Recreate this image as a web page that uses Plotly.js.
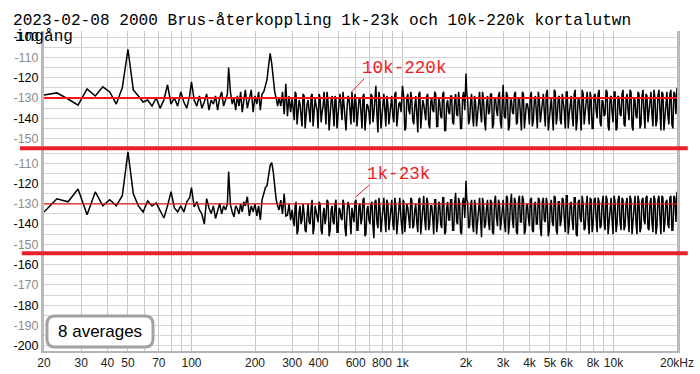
<!DOCTYPE html>
<html><head><meta charset="utf-8">
<script src="https://cdn.plot.ly/plotly-3.0.1.min.js"></script>
<style>html,body{margin:0;padding:0;background:#fff}#chart{width:700px;height:374px}</style>
</head><body><div id="chart"></div>
<script>
const titleLine1 = "2023-02-08 2000 Brus-återkoppling 1k-23k och 10k-220k kortalutwn";
const titleLine2 = "ingång";
const labelTop = "10k-220k";
const labelBottom = "1k-23k";
const averagesText = "8 averages";

const freqLowHz = [20,23,26,29,32,35,38,41,44,47,50,53,56,59,62,65,68,71,74,77,80,83,86,89,92,95,98,100,
  103,106,109,112,115,118,121,124,127,130,133,136,139,142,145,148,150,153,156,159,162,165,168,171,174,177,180,
  184,188,192,196,200,204,208,212,216,220,224,228,232,236,240,244,248,252,256,260,265,270,275,280,285,290,295];
const freqHighHz = [300,307,313,320,327,334,342,349,357,365,
  373,381,390,398,407,416,425,434,444,454,
  464,474,484,495,506,517,528,540,552,564,
  576,589,602,615,629,643,657,671,686,701,
  717,732,748,765,782,799,816,834,853,871,
  890,910,930,950,971,1000,1015,1037,1060,1083,
  1107,1131,1156,1182,1208,1234,1261,1289,1317,1346,
  1376,1406,1437,1469,1501,1534,1568,1602,1637,1673,
  1710,1748,1786,1825,1865,1906,1948,2000,2035,2080,
  2125,2172,2220,2269,2319,2370,2422,2475,2529,2585,
  2642,2700,2759,2820,2882,2945,3000,3076,3144,3213,
  3284,3356,3430,3505,3582,3661,3741,3824,3908,3994,
  4081,4171,4263,4356,4452,4550,4650,4752,4857,4963,
  5072,5184,5298,5414,5533,5655,5779,5906,6036,6169,
  6304,6443,6585,6729,6877,7029,7183,7341,7503,7668,
  7836,8008,8184,8364,8548,8736,8929,9125,9326,9531,
  9741,9955,10174,10398,10626,10860,11099,11343,11593,11848,
  12109,12375,12647,12925,13210,13500,13797,14101,14411,14728,
  15052,15383,15722,16068,16421,16782,17152,17529,17915,18309,
  18712,19123,19544,20000];
const freqMidHz = [303.5,310,316.5,323.5,330.5,338,345.5,353,361,369,
  377,385.5,394,402.5,411.5,420.5,429.5,439,449,459,
  469,479,489.5,500.5,511.5,522.5,534,546,558,570,
  582.5,595.5,608.5,622,636,650,664,678.5,693.5,709,
  724.5,740,756.5,773.5,790.5,807.5,825,843.5,862,880.5,
  900,920,940,960.5,985,1007.5,1026,1048.5,1071.5,1095,
  1119,1143.5,1169,1195,1221,1247.5,1275,1303,1331.5,1361,
  1391,1421.5,1453,1485,1517.5,1551,1585,1619.5,1655,1691.5,
  1729,1767,1805.5,1845,1885.5,1927,1974,2017.5,2057.5,2102.5,
  2148.5,2196,2244.5,2294,2344.5,2396,2448.5,2502,2557,2613.5,
  2671,2729.5,2789.5,2851,2913.5,2972.5,3038,3110,3178.5,3248.5,
  3320,3393,3467.5,3543.5,3621.5,3701,3782.5,3866,3951,4037.5,
  4126,4217,4309.5,4404,4501,4600,4701,4804.5,4910,5017.5,
  5128,5241,5356,5473.5,5594,5717,5842.5,5971,6102.5,6236.5,
  6373.5,6514,6657,6803,6953,7106,7262,7422,7585.5,7752,
  7922,8096,8274,8456,8642,8832.5,9027,9225.5,9428.5,9636,
  9848,10064.5,10286,10512,10743,10979.5,11221,11468,11720.5,11978.5,
  12242,12511,12786,13067.5,13355,13648.5,13949,14256,14569.5,14890,
  15217.5,15552.5,15895,16244.5,16601.5,16967,17340.5,17722,18112,18510.5,
  18917.5,19333.5,19771];

const dB_10k220k_low = [-128.5,-127.5,-130.5,-133.5,-125.5,-129,-124.5,-127,-133,-125,
  -106,-126,-129,-132,-131,-134,-130,-135,-131,-123.5,
  -133,-130,-134,-127,-132,-135,-129,-122,-131,-134,
  -129,-135,-132,-128,-136,-131,-133,-129,-136,-130,
  -127,-134,-131,-128,-115,-127,-133,-130,-136,-129,
  -134,-127,-137,-131,-126,-135,-130,-126,-137,-129,
  -133,-127,-136,-128,-127,-124,-121,-114,-108,-113,
  -121,-127,-130,-134,-130,-134,-127,-138,-123,-139,
  -129,-137];
const dB_10k220k_high = [-130,-141,-128,-138,-133,-144,-129,-136,-131,-142,
  -128,-139,-134,-145,-130,-137,-127,-143,-132,-138,
  -129,-144,-131,-136,-128,-141,-133,-146,-129,-139,
  -127,-142,-132,-137,-130,-145,-128,-140,-134,-143,
  -129,-138,-124,-147,-131,-139,-128,-144,-133,-137,
  -129,-142,-127,-140,-132,-124,-130,-145,-128,-138,
  -131,-143,-129,-147,-127,-139,-133,-141,-128,-145,
  -130,-137,-128,-144,-132,-140,-127,-146,-131,-138,
  -129,-143,-128,-139,-133,-145,-127,-118,-130,-141,
  -128,-144,-132,-138,-127,-142,-131,-146,-129,-137,
  -128,-143,-130,-139,-127,-145,-123.5,-140,-129,-144,
  -131,-138,-127,-142,-130,-146,-128,-139,-133,-143,
  -127,-141,-129,-145,-131,-137,-128,-144,-126,-140,
  -130,-146,-127,-139,-129,-143,-132,-145,-127,-138,
  -129,-144,-126,-141,-131,-146,-128,-139,-127,-143,
  -130,-145,-128,-140,-126,-144,-132,-138,-127,-146,
  -129,-142,-127,-145,-130,-139,-126,-144,-128,-141,
  -127,-146,-131,-140,-128,-143,-126,-145,-129,-138,
  -127,-144,-130,-141,-126,-146,-128,-139,-127,-143,
  -126,-145,-128,-125];
const dB_10k220k_mid = [-136,-127,-143,-131,-139,-128,-145,-133,-137,-129,
  -144,-130,-136,-128,-142,-134,-139,-127,-146,-131,
  -138,-129,-145,-132,-137,-127,-141,-135,-130,-143,
  -136,-128,-144,-131,-139,-129,-146,-133,-137,-128,
  -142,-130,-138,-127,-145,-132,-136,-129,-143,-131,
  -139,-128,-144,-133,-137,-129,-146,-130,-136,-127,
  -141,-134,-138,-128,-145,-131,-137,-129,-143,-132,
  -136,-127,-144,-130,-139,-128,-146,-133,-137,-129,
  -142,-131,-138,-127,-145,-130,-136,-128,-143,-132,
  -139,-129,-144,-131,-137,-127,-141,-133,-138,-128,
  -145,-130,-136,-129,-142,-132,-139,-127,-146,-131,
  -137,-128,-143,-130,-138,-127,-145,-133,-136,-129,
  -144,-131,-139,-127,-142,-130,-137,-128,-146,-132,
  -138,-126,-143,-130,-141,-128,-136,-127,-145,-131,
  -139,-128,-146,-130,-137,-126,-143,-132,-138,-127,
  -145,-129,-136,-128,-142,-131,-139,-126,-144,-130,
  -137,-127,-146,-129,-138,-128,-143,-131,-136,-126,
  -144,-130,-139,-127,-145,-129,-137,-128,-142,-131,
  -138,-126,-144,-129,-136,-127,-146,-130,-139,-128,
  -143,-127,-138];

const dB_1k23k_low = [-134,-127.5,-129,-122.7,-135.4,-124.1,-131,-128,-131,-126,
  -104.3,-125,-131,-134,-128.5,-131,-129.5,-133,-137,-131,
  -124,-132,-134,-131,-134,-129,-127,-122,-131.5,-129,
  -133,-135,-140,-127.4,-132,-134.8,-131,-137.2,-133,-129.8,
  -135,-131,-133,-130,-114,-130.5,-134,-136.4,-131,-132.5,
  -135,-130,-134,-129,-131,-126.5,-136,-131,-134,-130,
  -136,-131,-137.9,-128,-125,-122,-121,-116,-111,-109.7,
  -114,-121,-128,-131,-133,-128.2,-135,-125,-136,-135.6,
  -130,-138];
const dB_1k23k_high = [-133,-141,-129,-143,-131,-138,-135,-144,-130,-140,
  -128,-142,-134,-139,-130,-145,-132,-137,-129,-143,
  -131,-140,-128,-144,-133,-138,-130,-146,-129,-141,
  -132,-139,-128,-143,-130,-137,-127,-145,-131,-140,
  -129,-147,-128,-142,-132,-139,-127,-144,-130,-138,
  -128,-143,-131,-140,-127,-145,-129,-138,-132,-142,
  -128,-141,-130,-144,-127,-139,-126,-143,-129,-140,
  -131,-145,-128,-139,-130,-142,-127,-144,-129,-138,
  -128,-143,-124.5,-140,-130,-145,-127,-118.6,-129,-141,
  -128,-144,-131,-139,-127,-146.5,-130,-140,-128,-143,
  -129,-145,-126,-141,-130,-138,-128,-144,-127,-140,
  -125,-142,-129,-145,-126,-139,-128,-143,-130,-141,
  -127,-144,-129,-140,-128,-146,-127,-139,-130,-143,
  -128,-141,-127,-145,-129,-138,-128,-144,-126,-140,
  -129,-143,-127,-146,-128,-139,-130,-142,-126,-145,
  -128,-140,-127,-144,-129,-141,-126,-143,-128,-139,
  -127,-145,-129,-140,-126,-143,-128,-141,-127,-144,
  -128,-139,-126,-145,-129,-142,-127,-140,-126,-143,
  -127,-144,-128,-141,-126,-145,-127,-139,-128,-142,
  -126,-143,-127,-124];
const dB_1k23k_mid = [-138,-131,-145,-134,-140,-130,-143,-136,-139,-132,
  -145,-131,-137,-129,-143,-135,-140,-128,-146,-133,
  -139,-130,-144,-132,-137,-128,-142,-134,-131,-145,
  -137,-129,-143,-131,-140,-128,-146,-133,-138,-130,
  -141,-129,-139,-127,-144,-131,-137,-128,-143,-130,
  -140,-127,-145,-132,-138,-128,-144,-130,-137,-127,
  -142,-133,-139,-128,-145,-130,-138,-127,-143,-131,
  -137,-128,-144,-129,-140,-127,-145,-132,-138,-128,
  -143,-130,-139,-127,-144,-129,-137,-128,-142,-131,
  -140,-128,-145,-130,-138,-127,-142,-132,-139,-128,
  -144,-129,-137,-128,-143,-131,-139,-126,-145,-130,
  -138,-127,-144,-129,-139,-126,-145,-131,-137,-128,
  -143,-130,-140,-127,-142,-129,-138,-127,-146,-131,
  -139,-126,-143,-129,-141,-127,-137,-126,-145,-130,
  -138,-127,-145,-129,-137,-126,-143,-131,-139,-127,
  -144,-128,-137,-127,-142,-130,-139,-126,-145,-129,
  -138,-126,-144,-128,-139,-127,-143,-130,-137,-126,
  -145,-129,-139,-126,-144,-128,-138,-127,-142,-130,
  -139,-126,-145,-128,-137,-126,-144,-129,-140,-127,
  -143,-126,-139];

const xTickVals = [20,30,40,50,60,70,80,90,100,200,300,400,500,600,700,800,900,
  1000,2000,3000,4000,5000,6000,7000,8000,9000,10000,20000];
const xTickText = ["20","30","40","50","","70","","","100","200","300","400","","600","","800","",
  "1k","2k","3k","4k","5k","6k","","8k","","10k","20kHz"];
const xMajorVals = [100,1000,10000];
const yTopTickVals = [-100,-105,-110,-115,-120,-125,-130,-135,-140,-145,-150];
const yBottomTickVals = [-105,-110,-115,-120,-125,-130,-135,-140,-145,-150,-155,-160,-165,-170,-175,-180,-185,-190,-195,-200];
const refLevel = -130;

function tickLabel(v){
  if (v % 10 !== 0) return "";
  const grey = (Math.abs(v) % 20) !== 0;
  return grey ? '<span style="color:#8c8c8c">' + v + '</span>' : String(v);
}

// merge the typed point sets into one frequency-ordered series
function mergeSeries(fA, vA, fB, vB){
  const pts = [];
  fA.forEach((f, i) => pts.push([f, vA[i]]));
  fB.forEach((f, i) => pts.push([f, vB[i]]));
  pts.sort((a, b) => a[0] - b[0]);
  return {x: pts.map(p => p[0]), y: pts.map(p => p[1])};
}
const freqAll = freqLowHz.concat(freqHighHz);
const topSeries = mergeSeries(freqAll, dB_10k220k_low.concat(dB_10k220k_high), freqMidHz, dB_10k220k_mid);
const botSeries = mergeSeries(freqAll, dB_1k23k_low.concat(dB_1k23k_high), freqMidHz, dB_1k23k_mid);

const traceTop = {
  x: topSeries.x, y: topSeries.y,
  xaxis:'x', yaxis:'y', type:'scatter', mode:'lines', name: labelTop,
  line:{color:'#000', width:1.5}, hoverinfo:'skip'
};
const traceBottom = {
  x: botSeries.x, y: botSeries.y,
  xaxis:'x', yaxis:'y2', type:'scatter', mode:'lines', name: labelBottom,
  line:{color:'#000', width:1.5}, hoverinfo:'skip'
};

const tickFontY = {family:'Liberation Sans, Arial, sans-serif', size:12.5, color:'#000'};
const splitY = 0.6334;

const shapes = [];
xMajorVals.forEach(v => shapes.push({type:'line', xref:'x', yref:'paper', x0:v, x1:v, y0:0, y1:1,
  line:{color:'#8a8a8a', width:1}, layer:'below'}));
shapes.push({type:'line', xref:'paper', yref:'y', x0:0, x1:1, y0:refLevel, y1:refLevel, line:{color:'#ff1414', width:1.8}});
shapes.push({type:'line', xref:'paper', yref:'y2', x0:0, x1:1, y0:refLevel, y1:refLevel, line:{color:'#dc1c1c', width:1.2}});
shapes.push({type:'line', xref:'paper', yref:'paper', x0:-0.038, x1:1.017, y0:splitY, y1:splitY, line:{color:'#e8202a', width:4}});
shapes.push({type:'line', xref:'paper', yref:'paper', x0:-0.035, x1:1.017, y0:0.3053, y1:0.3053, line:{color:'#e8202a', width:4}});
shapes.push({type:'line', xref:'paper', yref:'paper', x0:0.4861, x1:0.5055, y0:0.8103, y1:0.85, line:{color:'#ee1c24', width:1}});
shapes.push({type:'line', xref:'paper', yref:'paper', x0:0.4929, x1:0.5139, y0:0.4822, y1:0.5188, line:{color:'#ee1c24', width:1}});
shapes.push({type:'path', xref:'paper', yref:'paper',
  path:'M0.0173,0.0125 L0.1596,0.0125 Q0.1722,0.0125 0.1722,0.0375 L0.1722,0.0844 Q0.1722,0.1094 0.1596,0.1094 L0.0173,0.1094 Q0.0047,0.1094 0.0047,0.0844 L0.0047,0.0375 Q0.0047,0.0125 0.0173,0.0125 Z',
  fillcolor:'#fff', line:{color:'#a2a2a2', width:3}});

const annotations = [
  {text:titleLine2, xref:'paper', yref:'paper', x:-0.049, y:0.981, xanchor:'left', yanchor:'middle', showarrow:false,
   font:{family:'Liberation Mono, monospace', size:16.1, color:'#000'}},
  {text:labelTop, xref:'paper', yref:'paper', x:0.5695, y:0.8844, xanchor:'center', yanchor:'middle', showarrow:false,
   font:{family:'Liberation Mono, monospace', size:17.6, color:'#ee1c24'}},
  {text:labelBottom, xref:'paper', yref:'paper', x:0.56, y:0.553, xanchor:'center', yanchor:'middle', showarrow:false,
   font:{family:'Liberation Mono, monospace', size:17.6, color:'#ee1c24'}},
  {text:averagesText, xref:'paper', yref:'paper', x:0.0885, y:0.061, xanchor:'center', yanchor:'middle', showarrow:false,
   font:{family:'Liberation Sans, Arial, sans-serif', size:17, color:'#000'}}
];

const yCommon = {
  anchor:'x', tickmode:'array', showgrid:true, gridcolor:'#d6d6d6', gridwidth:1, zeroline:false,
  showline:true, mirror:true, linecolor:'#bababa', linewidth:3, ticks:'', tickfont:tickFontY, fixedrange:true
};

const layout = {
  width:700, height:374,
  margin:{l:44, r:23, t:31, b:23, pad:0},
  paper_bgcolor:'#fff', plot_bgcolor:'rgba(0,0,0,0)',
  showlegend:false,
  title:{text:titleLine1, font:{family:'Liberation Mono, monospace', size:16.1, color:'#000'},
    xref:'container', x:13/700, xanchor:'left', yref:'container', y:1-19/374, yanchor:'middle'},
  xaxis:{type:'log', range:[Math.log10(20), Math.log10(20000)], anchor:'y2', tickmode:'array',
    tickvals:xTickVals, ticktext:xTickText, showgrid:true, gridcolor:'#c8c8c8', gridwidth:1, zeroline:false,
    showline:true, linecolor:'#b4b4b4', linewidth:2, ticks:'',
    tickfont:{family:'Liberation Sans, Arial, sans-serif', size:12, color:'#222'}, fixedrange:true},
  yaxis:Object.assign({}, yCommon, {domain:[splitY,1], range:[-154.8,-97],
    tickvals:yTopTickVals, ticktext:yTopTickVals.map(tickLabel)}),
  yaxis2:Object.assign({}, yCommon, {domain:[0,splitY], range:[-202.6,-102.6],
    tickvals:yBottomTickVals, ticktext:yBottomTickVals.map(tickLabel)}),
  shapes:shapes,
  annotations:annotations
};

Plotly.newPlot('chart', [traceTop, traceBottom], layout, {staticPlot:true, displayModeBar:false});
</script>
</body></html>
